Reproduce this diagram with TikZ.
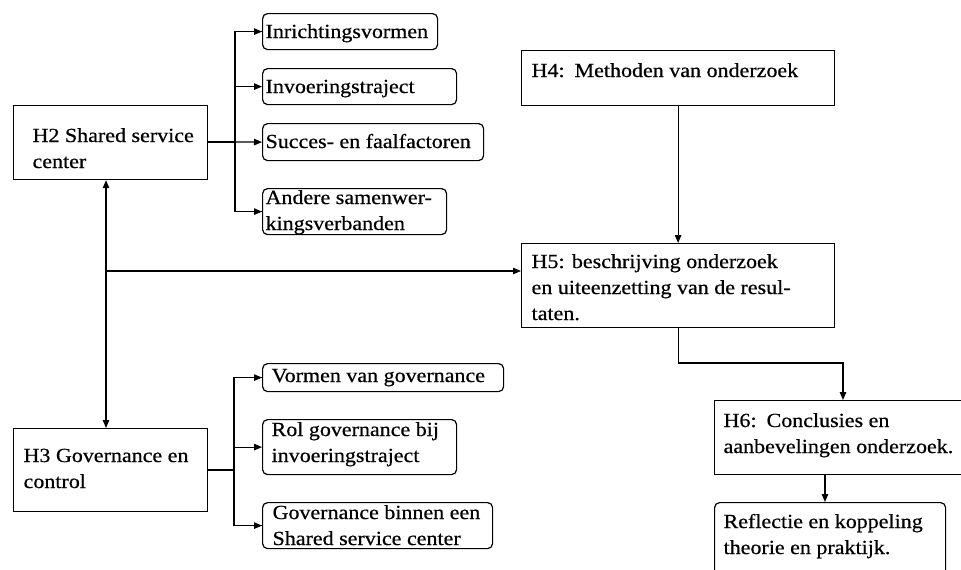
\documentclass[tikz,border=0pt]{standalone}
\usepackage{fontspec}
\setmainfont{Liberation Serif}[FakeStretch=1.1,FakeBold=0.6]
\usetikzlibrary{arrows.meta}
\begin{document}
\begin{tikzpicture}[x=1pt,y=-1pt,
  line width=1.2pt,
  tip/.style={-{Triangle[length=8pt,width=6.5pt]}},
  dtip/.style={{Triangle[length=8pt,width=6.5pt]}-{Triangle[length=8pt,width=6.5pt]}},
  chap/.style={draw, rectangle, anchor=north west, inner sep=0pt},
  sub/.style={draw, rectangle, rounded corners=5pt, anchor=north west, inner sep=0pt},
  txt/.style={anchor=base west, inner sep=0pt, align=left,
    font=\fontsize{20}{26}\selectfont}]
\useasboundingbox (0,0) rectangle (961,570);
\fill[white] (0,0) rectangle (961,570);
\clip (0,0) rectangle (961,570);

% chapter boxes
\node[chap, minimum width=194pt, minimum height=74pt] (h2) at (13,105) {};
\node[chap, minimum width=194pt, minimum height=83pt] (h3) at (13,428) {};
\node[chap, minimum width=313pt, minimum height=55pt] (h4) at (521,50) {};
\node[chap, minimum width=313pt, minimum height=84pt] (h5) at (521,243) {};
\node[chap, minimum width=260pt, minimum height=74pt] (h6) at (714,400) {};

% topic boxes
\node[sub, minimum width=175pt, minimum height=36pt] (inr) at (262,13) {};
\node[sub, minimum width=194pt, minimum height=36pt] (inv) at (262,68) {};
\node[sub, minimum width=221pt, minimum height=37pt] (suc) at (262,123) {};
\node[sub, minimum width=184pt, minimum height=46pt] (and) at (262,188) {};
\node[sub, minimum width=241pt, minimum height=28pt] (vrm) at (262,363) {};
\node[sub, minimum width=194pt, minimum height=55pt] (rol) at (262,419) {};
\node[sub, minimum width=230pt, minimum height=46pt] (gov) at (262,502) {};
\node[sub, minimum width=231pt, minimum height=80pt] (ref) at (714,502) {};

% texts (anchored at the baseline of their last line)
\node[txt] (h2t) at (32,168) {H2 Shared service\\center};
\node[txt] (h3t) at (23,488) {H3 Governance en\\control};
\node[txt] (h4t) at (531,77) {H4:\enspace Methoden van onderzoek};
\node[txt] (h5t) at (531,320) {H5: beschrijving onderzoek\\en uiteenzetting van de resul-\\taten.};
\node[txt] (h6t) at (723,453) {H6:\enspace Conclusies en\\aanbevelingen onderzoek.};
\node[txt] (inrt) at (265,38) {Inrichtingsvormen};
\node[txt] (invt) at (265,93) {Invoeringstraject};
\node[txt] (suct) at (265,148) {Succes- en faalfactoren};
\node[txt] (andt) at (265,230) {Andere samenwer-\\kingsverbanden};
\node[txt] (vrmt) at (271,382) {Vormen van governance};
\node[txt] (rolt) at (271,462) {Rol governance bij\\invoeringstraject};
\node[txt] (govt) at (272,545) {Governance binnen een\\Shared service center};
\node[txt] (reft) at (723,554) {Reflectie en koppeling\\theorie en praktijk.};

% branch points
\coordinate (b2) at (235,142);
\coordinate (b3) at (234,470);
\coordinate (j) at (106,271);
\coordinate (k) at (843,363);
\coordinate (m) at (825,474);

% H2 branches
\draw (h2.east |- b2) -- (b2);
\draw (b2) |- (inr.west);
\draw (b2) |- (and.west);
\draw[tip] (b2 |- inr.west) -- (inr.west);
\draw[tip] (b2 |- inv.west) -- (inv.west);
\draw[tip] (b2) -- (suc.west);
\draw[tip] (b2 |- and.west) -- (and.west);

% H3 branches
\draw (h3.east |- b3) -- (b3);
\draw (b3) |- (vrm.west);
\draw (b3) |- (gov.west);
\draw[tip] (b3 |- vrm.west) -- (vrm.west);
\draw[tip] (b3 |- rol.west) -- (rol.west);
\draw[tip] (b3 |- gov.west) -- (gov.west);

% main flow
\draw[dtip] (j |- h2.south) -- (j |- h3.north);
\draw[tip] (j) -- (j -| h5.west);
\draw[tip] (h4.south) -- (h5.north);
\draw[tip] (h5.south) |- (k) -- (k |- h6.north);
\draw[tip] (m) -- (m |- ref.north);
\end{tikzpicture}
\end{document}
